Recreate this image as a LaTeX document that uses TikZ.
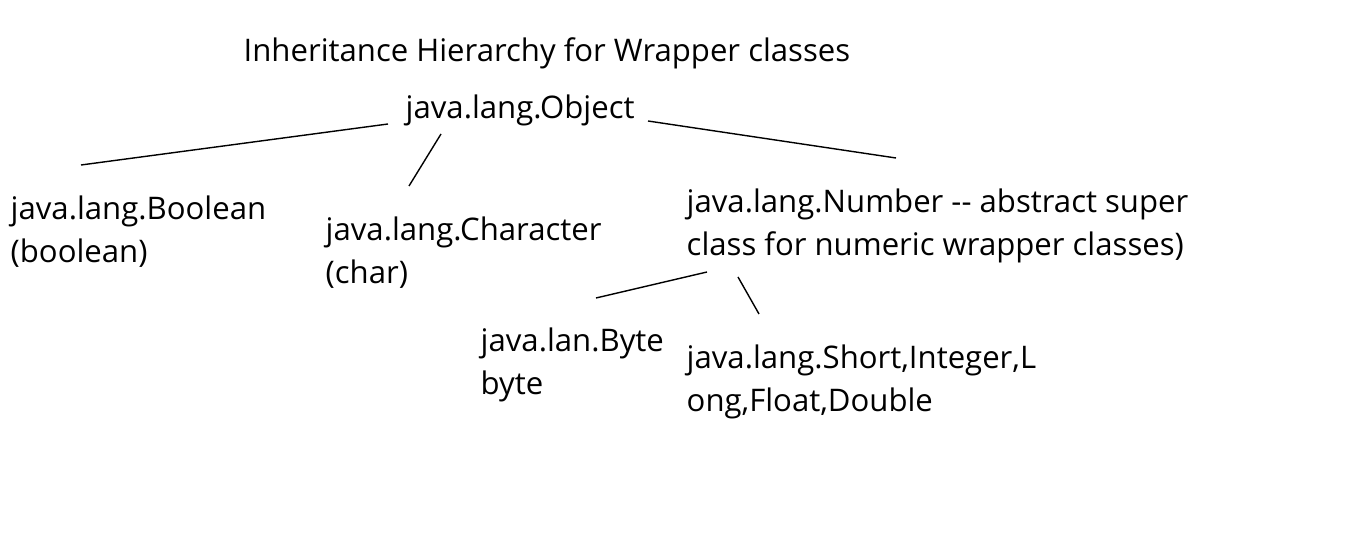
\documentclass[tikz,border=0pt]{standalone}
\usepackage{fontspec}
\setmainfont{Open Sans}
\begin{document}
\begin{tikzpicture}[
    x=0.01cm, y=-0.01cm,
    label/.style={inner sep=0pt, anchor=base west, align=left,
        font=\fontsize{8.85}{12.5}\selectfont},
    edge/.style={draw=black, line width=0.3pt},
    ]
    \useasboundingbox[fill=white] (0,0) rectangle (1360,540);

    %% Title and root
    \node[label] (title) at (243,62) {Inheritance Hierarchy for Wrapper classes};
    \node[label] (object) at (405,119) {java.lang.Object};

    %% Children of Object (anchored at the baseline of the last line)
    \node[label] (boolean) at (10,263) {java.lang.Boolean\\(boolean)};
    \node[label] (character) at (325,284) {java.lang.Character\\(char)};
    \node[label] (number) at (686,256) {java.lang.Number -{}- abstract super\\class for numeric wrapper classes)};

    %% Children of Number
    \node[label] (byte) at (480,395) {java.lan.Byte\\byte};
    \node[label] (others) at (686,412) {java.lang.Short,Integer,L\\ong,Float,Double};

    % Free ends of the hand drawn strokes
    \coordinate (obj-l) at (388,124);
    \coordinate (obj-m) at (441,134);
    \coordinate (obj-r) at (648,121);
    \coordinate (bool-t) at (81,165);
    \coordinate (char-t) at (409,186);
    \coordinate (num-t) at (896,158);
    \coordinate (num-l) at (707,272);
    \coordinate (num-m) at (738,277);
    \coordinate (byte-t) at (596,298);
    \coordinate (others-t) at (759,314);

    {[edge]
        \draw (obj-l) -- (bool-t);
        \draw (obj-m) -- (char-t);
        \draw (obj-r) -- (num-t);
        \draw (num-l) -- (byte-t);
        \draw (num-m) -- (others-t);
    }
\end{tikzpicture}
\end{document}
